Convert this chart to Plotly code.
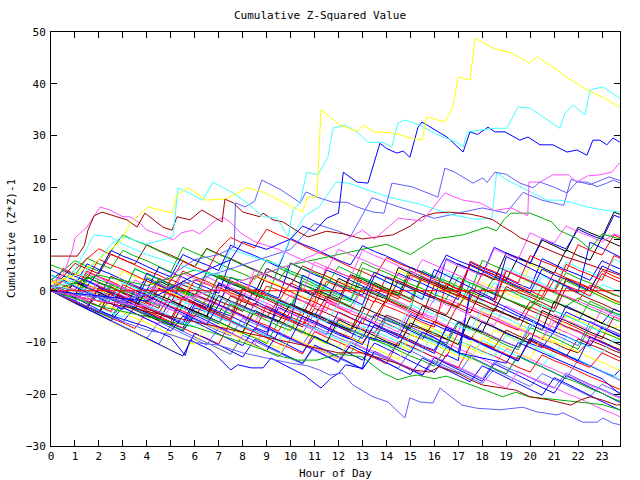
import plotly.graph_objects as go

TITLE = "Cumulative Z-Squared Value"
X_TITLE = "Hour of Day"
Y_TITLE = "Cumulative (Z*Z)-1"
X_TICKS = list(range(0, 24))
Y_TICKS = [-30, -20, -10, 0, 10, 20, 30, 40, 50]

RED = "#ff0000"; GREEN = "#00b000"; BLUE = "#0000ff"; MAGENTA = "#ff50ff"
CYAN = "#40ffff"; DARKRED = "#a00000"; YELLOW = "#ffff00"; BLACK = "#000000"
SLATE = "#6060ff"

# half-hour time grid used by the dense bundle of walks (0, 0.5, ... 24.5)
HALF_HOURS = [i * 0.5 for i in range(50)]

BUNDLE_COLORS = [RED, GREEN, BLUE, MAGENTA, CYAN, DARKRED, YELLOW, BLACK, SLATE, BLUE,
                 RED, GREEN, BLUE, MAGENTA, CYAN, DARKRED, YELLOW, BLACK, SLATE, BLUE,
                 RED, GREEN, BLUE, MAGENTA, CYAN, DARKRED, YELLOW, BLACK, SLATE, BLUE,
                 RED, GREEN, BLUE, MAGENTA, CYAN, RED, GREEN, BLUE, DARKRED, GREEN,
                 RED, MAGENTA, BLUE, RED, BLUE, GREEN, MAGENTA, BLACK, YELLOW, SLATE,
                 RED, BLUE, DARKRED, CYAN]
BUNDLE_VALUES = [
    [1, 0.2, -0.9, -1.6, 1.5, 0.6, -0.5, -1.8, -2.6, 0.3, -0.8, -1.7, 2.1, 1.2, 0.4, -0.9, -1.8, -2.9, 0.9, 0.1,
     -1.1, -2.0, -3.2, 1.8, 0.9, -0.3, -1.1, -2.2, 2.7, 1.9, 0.8, -0.2, -1.3, -2.0, -3.1, 0.2, -0.9, -1.8, 3.9, 2.8,
     1.9, 0.8, -0.1, -1.2, -2.0, 1.1, 0.2, -0.8, -1.5, -2.4],
    [0.3, -0.6, -1.5, 3.2, 2.1, 1.3, 0.1, -0.8, 2.6, 1.5, 0.4, -0.4, -1.5, -2.6, -3.4, -4.5, 0.6, -0.5, -1.4, -2.3,
     -3.1, 1.9, 0.8, -0.1, -1.3, -2.1, 4.4, 3.5, 2.6, 1.4, 0.6, -0.6, -1.5, -2.4, -3.3, 1.5, 0.4, -0.4, -1.6, -2.5,
     -3.3, -1.2, -2.1, -3.0, -1.4, -2.6, -3.5, -4.3, -5.1, -5.9],
    [0, -1.2, -2.3, -3.1, -4.2, -5.0, -2.1, -3.2, -4.1, -5.3, -6.4, -7.2, -3.3, -4.1, -5.2, -6.0, -7.1, -2.4, -3.5, -4.3,
     -5.4, -6.5, -7.3, -8.4, -4.1, -5.2, -6.3, -7.1, -8.0, -9.2, -4.6, -5.7, -6.5, -7.6, -8.4, -9.5, -6.0, -7.1, -8.3, -9.1,
     -10.2, -11.0, -7.9, -8.8, -9.9, -10.7, -7.2, -8.4, -9.5, -10.3],
    [2, 1.1, 0.2, 3.5, 2.6, 1.4, 0.5, -0.6, -1.5, 2.4, 1.3, 0.4, -0.7, -1.6, -2.5, 1.6, 0.5, -0.3, -1.4, -2.5,
     -3.4, -4.2, -1.1, -2.0, -3.1, -4.2, 0.7, -0.4, -1.3, -2.1, -3.2, -4.4, -5.2, -1.6, -2.5, -3.6, -4.7, -5.5, -6.4, -7.5,
     -8.3, -9.4, -6.0, -7.1, -8.0, -9.2, -10.1, -11.0, -11.8, -12.7],
    [1, 0.1, 3.6, 2.5, 1.6, 0.5, -0.4, 4.1, 3.2, 2.1, 1.0, 0.1, -0.8, 3.3, 2.4, 1.3, 0.5, -0.6, -1.5, 4.6,
     3.5, 2.4, 1.6, 0.5, -0.4, -1.3, 2.3, 1.2, 0.3, -0.8, -1.7, 2.8, 1.7, 0.9, -0.2, -1.1, -2.0, 1.5, 0.4, -0.5,
     -1.6, 2.9, 1.8, 0.7, -0.2, -1.3, 1.2, 0.3, -0.6, -1.5],
    [0, -0.9, 2.2, 1.1, 0.3, -0.8, -1.7, -2.8, -3.6, 0.5, -0.6, -1.5, -2.4, -3.5, -4.3, -1.0, -2.1, -3.0, -4.1, -5.0,
     -5.9, -7.0, -3.4, -4.3, -5.4, -6.2, -7.3, -8.2, -4.7, -5.6, -6.7, -7.5, -8.6, -9.4, -6.1, -7.2, -8.0, -9.1, -10.0, -10.9,
     -8.2, -9.3, -10.1, -11.2, -12.0, -9.6, -10.5, -11.6, -12.4, -13.3],
    [0, -1.3, -2.5, -3.6, -4.8, -5.9, -7.1, -8.2, -9.4, -10.3, -11.5, -12.6, -8.9, -10.1, -11.2, -12.2, -7.8, -8.9, -10.0, -11.1,
     -6.6, -7.7, -8.8, -9.8, -10.9, -6.2, -7.3, -8.4, -9.5, -10.4, -11.5, -6.9, -8.0, -9.1, -10.2, -11.1, -12.2, -7.5, -8.6, -9.7,
     -4.8, -5.9, -7.0, -8.1, -3.9, -5.0, -6.1, -7.2, -6.5, -7.6],
    [1, 0.1, -0.8, 2.7, 1.6, 0.7, -0.4, -1.3, -2.2, 1.9, 0.8, -0.1, -1.2, 3.6, 2.5, 1.4, 0.5, -0.6, 4.3, 3.2,
     2.3, 1.2, 0.3, -0.6, -1.7, 3.1, 2.2, 1.1, 0.0, -0.9, 3.8, 2.7, 1.8, 0.7, -0.2, 5.1, 4.0, 3.1, 2.0, 6.5,
     5.4, 4.5, 3.4, 7.9, 6.8, 5.9, 10.2, 9.1, 8.2, 7.1],
    [0, -1.2, -2.4, -3.5, -4.7, -5.8, -6.9, -8.1, -9.2, -10.3, -6.7, -7.8, -9.0, -10.1, -11.2, -12.3, -8.6, -9.7, -10.9, -12.0,
     -13.1, -14.2, -10.8, -11.9, -13.0, -14.1, -15.2, -12.0, -13.1, -14.2, -15.3, -16.4, -13.5, -14.6, -15.7, -16.8, -17.9, -15.2, -16.3, -17.4,
     -18.5, -16.0, -17.1, -18.2, -19.3, -20.4, -18.1, -19.2, -20.3, -21.4],
    [3, 2.1, 1.0, 5.2, 4.1, 3.2, 2.1, 1.0, 0.1, 4.6, 3.5, 2.6, 1.5, 0.6, -0.5, 6.1, 5.0, 4.1, 3.0, 2.1,
     1.0, 0.1, -0.8, 4.0, 3.1, 2.0, 0.9, 0.0, -1.1, 3.4, 2.3, 1.4, 0.3, -0.6, -1.7, 5.5, 4.4, 3.5, 2.4, 1.3,
     0.4, 6.2, 5.1, 4.0, 3.1, 2.0, 5.8, 4.7, 3.8, 2.7],
    [0, -1.1, -2.2, -3.3, 0.4, -0.7, -1.8, -2.7, -3.8, -4.9, -6.0, -1.5, -2.6, -3.7, -4.6, -5.7, -6.8, -7.7, -2.9, -4.0,
     -5.1, -6.0, -7.1, -2.2, -3.3, -4.4, -5.3, -6.4, -1.8, -2.9, -4.0, -5.1, -6.0, -7.1, -2.5, -3.6, -4.5, -5.6, -6.7, -7.6,
     -3.1, -4.2, -5.3, -6.2, -7.3, -8.4, -9.3, -5.0, -6.1, -7.2],
    [5, 4.1, 3.0, 6.3, 5.2, 4.3, 7.8, 6.7, 5.8, 4.7, 3.6, 8.4, 7.3, 6.4, 5.3, 4.2, 3.3, 2.2, 6.0, 4.9,
     3.8, 2.9, 1.8, 0.9, 4.7, 3.6, 2.5, 1.6, 0.5, -0.4, -1.5, 2.6, 1.5, 0.4, -0.5, -1.6, -2.5, -3.6, 0.3, -0.8,
     -1.9, -2.8, -3.9, -4.8, -5.9, -2.0, -3.1, -4.2, -5.1, -6.2],
    [0, -1.0, -2.1, -3.2, -4.3, 0.1, -1.0, -2.1, -3.0, -4.1, -5.2, -6.1, -1.8, -2.9, -4.0, -4.9, -6.0, -7.1, -8.0, -3.2,
     -4.3, -5.4, -6.3, -7.4, -8.5, -9.4, -5.3, -6.4, -7.5, -8.4, -9.5, -10.6, -11.5, -7.3, -8.4, -9.3, -10.4, -11.5, -12.4, -13.5,
     -9.4, -10.5, -11.4, -12.5, -13.6, -14.5, -15.6, -16.5, -14.0, -15.1],
    [0, -0.9, -1.8, 2.1, 1.0, 0.1, -1.0, -1.9, -3.0, -4.1, -5.0, -6.1, -2.8, -3.9, -4.8, -5.9, -7.0, -2.6, -3.5, -4.6,
     -5.7, -6.6, -7.7, -8.6, -5.2, -6.3, -7.4, -8.3, -9.4, -10.3, -7.0, -8.1, -9.2, -10.1, -11.2, -12.1, -13.2, -14.3, -11.2, -12.1,
     -13.2, -14.3, -15.2, -16.3, -17.2, -18.3, -19.2, -20.3, -21.2, -22.3],
    [2, 1.1, 0.0, -1.1, -2.0, 2.7, 1.6, 0.7, -0.4, -1.5, -2.4, 1.3, 0.2, -0.7, -1.8, -2.9, -3.8, 0.6, -0.5, -1.6,
     -2.5, -3.6, 1.1, 0.0, -0.9, -2.0, -3.1, 2.8, 1.7, 0.8, -0.3, -1.2, -2.3, 3.4, 2.3, 1.4, 0.3, -0.8, 4.5, 3.4,
     2.5, 1.4, 0.3, 5.6, 4.5, 3.6, 2.5, 6.1, 5.0, 4.1],
    [1, 0.1, -1.0, -2.1, -3.0, 0.8, -0.3, -1.2, -2.3, -3.4, 2.2, 1.1, 0.2, -0.9, -2.0, -2.9, -4.0, 0.3, -0.8, -1.7,
     -2.8, -3.9, -4.8, -1.1, -2.2, -3.1, -4.2, 1.5, 0.4, -0.5, -1.6, -2.7, -3.6, -4.7, -0.6, -1.7, -2.6, -3.7, -4.6, -5.7,
     -2.1, -3.2, -4.1, 0.6, -0.5, -1.6, -2.5, -3.6, -4.5, -5.6],
    [0, 2.4, 1.3, 0.4, -0.7, -1.6, -2.7, -3.8, -4.7, -1.3, -2.2, -3.3, -4.4, -5.3, -6.4, -7.5, -8.4, -4.1, -5.2, -6.1,
     -7.2, -8.3, -9.2, -10.3, -6.0, -7.1, -8.0, -9.1, -10.2, -11.1, -5.4, -6.5, -7.4, -8.5, -9.6, -10.5, -3.9, -5.0, -6.1, -7.0,
     -8.1, -9.2, -10.1, -4.6, -5.7, -6.6, -7.7, -8.8, -9.7, -10.8],
    [0, -1.1, -2.0, -3.1, -0.6, -1.7, -2.6, -3.7, -4.8, -5.7, -1.9, -3.0, -3.9, -5.0, 1.2, 0.1, -1.0, -1.9, 3.1, 2.0,
     0.9, 0.0, -1.1, -2.0, 2.4, 1.3, 0.4, -0.7, -1.6, 4.5, 3.4, 2.3, 1.4, 0.3, 5.2, 4.1, 3.2, 2.1, 7.3, 6.2,
     5.3, 9.8, 8.7, 7.6, 12.3, 11.2, 10.3, 15.2, 14.3, 13.2],
    [2, 1.1, 0.0, -1.1, -2.0, 1.5, 0.4, -0.5, -1.6, -2.7, -3.6, -4.7, -5.6, -6.7, -7.8, -8.7, -5.3, -6.4, -7.3, -8.4,
     -9.5, -10.4, -6.9, -8.0, -9.1, -10.0, -11.1, -12.2, -13.1, -9.8, -10.9, -11.8, -12.9, -14.0, -14.9, -16.0, -17.1, -13.7, -14.8, -15.7,
     -16.8, -17.9, -18.8, -15.9, -17.0, -18.1, -19.0, -20.1, -21.0, -22.1],
    [0, -1.1, -2.0, 1.9, 0.8, -0.1, -1.2, -2.1, 3.4, 2.3, 1.2, 0.3, -0.8, -1.7, -2.8, 2.6, 1.5, 0.6, -0.5, -1.4,
     5.3, 4.2, 3.1, 2.2, 1.1, 0.2, -0.9, 3.6, 2.5, 1.6, 0.5, -0.6, -1.5, 6.2, 5.1, 4.2, 3.1, 8.4, 7.3, 6.4,
     5.3, 10.1, 9.0, 8.1, 11.9, 10.8, 9.9, 14.6, 13.7, 12.8],
    [0, -1.1, -2.2, -3.1, -4.2, -5.3, -6.2, -7.3, -4.1, -5.2, -6.1, -7.2, -8.3, -9.2, -10.3, -6.0, -7.1, -8.0, -9.1, -10.2,
     -11.1, -12.2, -7.9, -9.0, -9.9, -11.0, -12.1, -13.0, -14.1, -9.8, -10.7, -11.8, -12.9, -13.8, -14.9, -10.6, -11.7, -12.6, -13.7, -14.8,
     -15.7, -12.4, -13.5, -14.4, -15.5, -16.6, -17.5, -18.6, -19.5, -20.6],
    [1, 0.1, -1.0, -1.9, -3.0, 1.2, 0.1, -0.8, -1.9, -3.0, 0.9, -0.2, -1.1, 3.7, 2.6, 1.7, 0.6, -0.5, -1.4, 4.4,
     3.3, 2.4, 1.3, 0.2, -0.7, -1.8, 2.3, 1.2, 0.1, -0.8, 4.6, 3.5, 2.6, 1.5, 0.4, -0.5, 5.9, 4.8, 3.9, 2.8,
     1.7, 0.8, -0.3, 3.5, 2.4, 1.5, 0.4, -0.7, -1.6, -2.7],
    [0, -1.2, -2.3, -3.5, -4.6, -5.8, -6.9, -8.0, -9.2, -10.3, -11.5, -12.6, -8.2, -9.3, -10.5, -11.6, -12.8, -9.4, -10.6, -11.7,
     -12.9, -14.0, -10.5, -11.6, -12.8, -13.9, -15.1, -11.7, -12.8, -14.0, -15.1, -16.3, -12.9, -14.1, -15.2, -16.4, -17.5, -14.1, -15.2, -16.4,
     -17.5, -18.7, -19.8, -16.4, -17.5, -18.7, -19.8, -21.0, -22.1, -23.3],
    [1, 0.1, -1.0, -1.9, -3.0, -4.1, -1.4, -2.5, -3.4, 1.3, 0.2, -0.7, -1.8, 2.7, 1.6, 0.7, -0.4, -1.5, -2.4, -3.5,
     -0.8, -1.9, -2.8, -3.9, 1.9, 0.8, -0.1, -1.2, -2.3, -3.2, -4.3, -5.4, -1.6, -2.7, -3.6, -4.7, -5.8, -6.7, -2.9, -4.0,
     -4.9, -6.0, -7.1, -8.0, -9.1, -10.2, -6.9, -8.0, -8.9, -10.0],
    [0, -1.0, -2.1, 1.8, 0.7, -0.2, -1.3, -2.4, -3.3, -4.4, -1.0, -2.1, -3.0, -4.1, -5.2, -6.1, -7.2, -3.8, -4.9, -5.8,
     -6.9, -8.0, -8.9, -10.0, -6.4, -7.5, -8.4, -9.5, -10.6, -11.5, -8.0, -9.1, -10.0, -11.1, -12.2, -13.1, -9.6, -10.7, -11.6, -12.7,
     -13.8, -14.7, -11.3, -12.4, -13.3, -14.4, -15.5, -16.4, -17.5, -18.6],
    [0, 2.0, 0.9, 0.0, -1.1, 2.8, 1.7, 0.8, -0.3, -1.4, -2.3, 1.9, 0.8, -0.1, -1.2, -2.3, -3.2, -4.3, -5.2, -1.7,
     -2.8, -3.7, -4.8, -5.9, -6.8, -7.9, -4.3, -5.4, -6.3, -7.4, -8.5, -9.4, -5.9, -7.0, -7.9, -9.0, -10.1, -11.0, -7.6, -8.7,
     -9.6, -10.7, -11.8, -12.7, -9.3, -10.4, -11.3, -12.4, -13.5, -14.4],
    [1, 3.3, 2.2, 1.3, 0.2, -0.7, 3.8, 2.7, 1.8, 0.7, -0.4, -1.3, 2.5, 1.4, 0.5, -0.6, -1.7, 3.1, 2.0, 1.1,
     0.0, -1.1, -2.0, 2.9, 1.8, 0.9, -0.2, -1.3, -2.2, 4.0, 2.9, 2.0, 0.9, -0.2, -1.1, -2.2, 1.6, 0.5, -0.4, -1.5,
     5.1, 4.0, 3.1, 2.0, 0.9, 0.0, -1.1, -2.0, -3.1, -4.2],
    [0, -1.1, -2.0, -3.1, -4.2, -1.6, -2.7, -3.6, -4.7, -5.8, -6.7, -2.9, -4.0, -4.9, -6.0, -7.1, -8.0, -3.8, -4.9, -5.8,
     -6.9, -8.0, -8.9, -10.0, -5.6, -6.7, -7.6, -8.7, -9.8, -10.7, -6.2, -7.3, -8.2, -9.3, -10.4, -5.0, -6.1, -7.0, -8.1, -9.2,
     -10.1, -3.8, -4.9, -5.8, -6.9, -8.0, -8.9, -10.0, -11.1, -12.0],
    [0, -1.2, -2.3, -3.5, -4.6, -5.8, -6.9, -8.0, -9.2, -6.0, -7.1, -8.3, -9.4, -10.5, -7.1, -8.3, -9.4, -10.5, -11.7, -12.8,
     -9.3, -10.5, -11.6, -12.7, -13.9, -10.5, -11.6, -12.8, -13.9, -15.0, -11.6, -12.7, -13.9, -15.0, -16.1, -12.7, -13.8, -15.0, -16.1, -12.5,
     -13.6, -14.8, -15.9, -17.0, -13.4, -14.5, -15.7, -16.8, -17.9, -19.0],
    [1, -0.2, -1.4, -2.5, -3.7, -4.8, -6.0, -3.2, -4.3, -5.5, -6.6, -7.8, -4.7, -5.8, -7.0, -8.1, -9.3, -10.4, -11.6, -8.0,
     -9.1, -10.3, -11.4, -12.6, -13.7, -10.5, -11.6, -12.8, -13.9, -15.1, -16.2, -13.0, -14.1, -15.3, -16.4, -17.6, -14.5, -15.6, -16.8, -17.9,
     -19.1, -20.2, -16.8, -17.9, -19.1, -20.2, -21.4, -22.5, -23.7, -24.8],
    [2, 1.1, 0.0, 3.8, 2.7, 1.8, 0.7, -0.4, -1.3, 2.4, 1.3, 0.4, -0.7, -1.8, 3.0, 1.9, 1.0, -0.1, -1.0, -2.1,
     1.5, 0.4, -0.5, -1.6, -2.7, 2.9, 1.8, 0.9, -0.2, -1.1, -2.2, 2.6, 1.5, 0.6, -0.5, -1.6, 3.4, 2.3, 1.4, 0.3,
     -0.8, -1.7, 2.1, 1.0, 0.1, -1.0, 3.3, 2.2, 1.3, 0.2],
    [0, -1.1, -2.2, -3.1, -4.2, -5.3, -2.5, -3.6, -4.5, -5.6, -6.7, -7.6, -4.0, -5.1, -6.0, -7.1, -8.2, -9.1, -10.2, -5.9,
     -7.0, -7.9, -9.0, -10.1, -11.0, -12.1, -8.4, -9.5, -10.4, -11.5, -12.6, -13.5, -14.6, -10.9, -12.0, -12.9, -14.0, -15.1, -16.0, -12.7,
     -13.8, -14.7, -15.8, -16.9, -17.8, -18.9, -19.8, -20.9, -21.8, -22.9],
    [2, 3.9, 2.8, 1.9, 0.8, -0.3, -1.2, -2.3, -3.4, -4.3, -5.4, -6.5, -2.6, -3.7, -4.6, -5.7, -6.8, -7.7, -8.8, -1.9,
     -3.0, -3.9, -5.0, -6.1, -7.0, -8.1, -9.2, -4.6, -5.7, -6.6, -7.7, -8.8, -9.7, -10.8, -11.9, -0.7, -1.8, -2.7, -3.8, -4.9,
     -5.8, -6.9, -8.0, -4.1, -5.2, -6.1, -7.2, -8.3, -9.2, -10.3],
    [0, 1.8, 0.7, -0.2, -1.3, -2.4, -3.3, -4.4, -5.5, -6.4, -3.1, -4.2, -5.1, -6.2, -7.3, -8.2, -9.3, -10.4, -7.0, -8.1,
     -9.0, -10.1, -11.2, -12.1, -13.2, -9.8, -10.9, -11.8, -12.9, -14.0, -14.9, -16.0, -12.7, -13.8, -14.7, -15.8, -16.9, -17.8, -18.9, -15.6,
     -16.7, -17.6, -18.7, -19.8, -20.7, -21.8, -22.9, -23.8, -24.9, -26.0],
    [1, 0.0, -1.1, -2.0, -3.1, -4.2, -5.1, -1.8, -2.9, -3.8, -4.9, -6.0, -6.9, -3.6, -4.7, -5.6, -6.7, -7.8, -8.7, -9.8,
     -5.3, -6.4, -7.3, -8.4, -9.5, -10.4, -6.8, -7.9, -8.8, -9.9, -11.0, -11.9, -7.6, -8.7, -9.6, -10.7, -11.8, -12.7, -8.5, -9.6,
     -10.5, -11.6, -12.7, -8.9, -10.0, -10.9, -12.0, -9.4, -10.5, -11.4],
    [0, 4.3, 3.2, 2.3, 6.1, 5.0, 4.1, 3.0, 1.9, 1.0, -0.1, 3.8, 2.7, 1.8, 0.7, -0.4, -1.3, 2.9, 1.8, 0.9,
     -0.2, -1.3, -2.2, 4.6, 3.5, 2.6, 1.5, 0.4, -0.5, -1.6, 3.1, 2.0, 1.1, 0.0, -1.1, 5.7, 4.6, 3.7, 2.6, 1.5,
     6.8, 5.7, 4.8, 3.7, 8.9, 7.8, 6.9, 10.8, 9.7, 8.6],
    [0, -1.1, -2.0, 2.6, 1.5, 0.6, -0.5, 4.3, 3.2, 2.3, 1.2, 0.1, -1.0, -1.9, 2.8, 1.7, 0.8, -0.3, -1.4, -2.3,
     -3.4, 1.2, 0.1, -0.8, -1.9, -3.0, 0.7, -0.4, -1.3, -2.4, -3.5, 3.9, 2.8, 1.9, 0.8, -0.3, -1.2, 2.6, 1.5, 0.6,
     -0.5, -1.6, -2.5, 1.9, 0.8, -0.1, -1.2, -2.3, -3.2, -4.3],
    [0, -1.2, -2.3, -3.5, -4.6, -5.8, -3.2, -4.3, -5.5, -6.6, -7.8, -4.9, -6.0, -7.2, -8.3, -9.5, -10.6, -7.3, -8.4, -9.6,
     -10.7, -11.9, -8.8, -9.9, -11.1, -12.2, -13.4, -10.1, -11.2, -12.4, -13.5, -14.7, -15.8, -12.4, -13.5, 0.2, -0.9, -2.1, -3.2, -4.4,
     -5.5, -6.7, -7.8, -2.9, -4.0, -5.2, -6.3, -3.5, -4.6, -5.8],
    [0, 2.6, 5.3, 4.2, 3.3, 7.1, 6.0, 5.1, 8.9, 7.8, 6.9, 5.8, 4.7, 8.2, 7.1, 6.2, 5.1, 4.0, 3.1, 2.0,
     1.1, 4.8, 3.7, 2.8, 1.7, 0.6, -0.3, -1.4, -2.3, 1.9, 0.8, -0.1, -1.2, -2.3, -3.2, -4.3, 0.4, -0.7, -1.6, -2.7,
     -3.8, -4.7, -5.8, -6.9, -7.8, -8.9, -9.8, -10.9, -11.8, -12.9],
    [2, 3.9, 5.8, 4.7, 3.8, 7.6, 10.8, 9.7, 8.8, 7.7, 6.6, 5.7, 4.6, 8.1, 7.0, 6.1, 5.0, 3.9, 3.0, 1.9,
     5.4, 4.3, 3.4, 2.3, 1.2, 0.3, 5.5, 4.4, 3.5, 2.4, 1.3, 0.4, -0.7, -1.6, 2.6, 1.5, 0.6, -0.5, -1.6, -2.5,
     -3.6, 0.7, -0.4, -1.3, -2.4, -3.5, -4.4, -5.5, -6.4, -7.5],
    [0, 2.1, 4.0, 6.2, 8.1, 7.0, 6.1, 5.0, 3.9, 3.0, 1.9, 5.7, 4.6, 3.7, 8.0, 10.3, 9.2, 8.3, 11.9, 10.8,
     9.9, 8.8, 7.7, 6.8, 5.7, 4.6, 3.7, 2.6, 6.4, 5.3, 4.4, 3.3, 2.2, 1.3, 0.2, 5.1, 4.0, 3.1, 2.0, 0.9,
     0.0, -1.1, 3.6, 2.5, 1.6, 0.5, 3.9, 2.8, 1.9, 0.8],
    [0, -1.1, -2.0, 0.9, -0.2, -1.1, -2.2, 2.1, 1.0, 0.1, -1.0, 3.4, 2.3, 1.4, 0.3, -0.8, -1.7, 4.0, 2.9, 2.0,
     0.9, -0.2, 5.6, 4.5, 3.6, 2.5, 7.9, 6.8, 5.9, 4.8, 3.7, 2.8, 1.7, 5.9, 4.8, 3.9, 2.8, 8.1, 7.0, 6.1,
     11.2, 10.1, 9.2, 12.5, 11.4, 10.5, 9.4, 11.0, 10.2, 9.3],
    [4, 2.9, 2.0, 0.9, 3.6, 7.8, 6.7, 5.8, 4.7, 3.6, 2.7, 7.0, 5.9, 5.0, 3.9, 8.8, 7.7, 6.8, 5.7, 4.6,
     10.1, 9.0, 8.1, 7.0, 5.9, 5.0, 8.7, 7.6, 6.7, 5.6, 4.5, 3.6, 2.5, 6.9, 5.8, 4.9, 3.8, 2.7, 1.8, 0.7,
     -0.4, 4.2, 3.1, 2.2, 1.1, 0.0, 4.8, 3.7, 2.8, 1.7],
    [1, 0.0, -1.1, -2.0, -3.1, -4.0, 1.2, 0.1, -0.8, -1.9, -3.0, -3.9, -5.0, -1.6, -2.7, -3.6, -4.7, -5.8, -6.7, -7.8,
     -3.9, -5.0, -5.9, -7.0, -8.1, -9.0, -10.1, -6.6, -7.7, -8.6, -9.7, -10.8, -11.7, -12.8, -8.1, -9.2, -10.1, -11.2, -12.3, -13.2,
     -9.7, -10.8, -11.7, -12.8, -13.9, -14.8, -12.0, -13.1, -14.0, -15.1],
    [0, -1.2, -2.3, -3.5, 0.6, -0.5, -1.7, -2.8, 2.3, 1.2, 0.0, -1.1, -2.3, -3.4, 1.5, 0.4, -0.8, -1.9, -3.1, -4.2,
     -5.4, 3.0, 1.9, 0.7, -0.4, -1.6, -2.7, 2.9, 1.8, 0.6, -0.5, -1.7, 4.1, 3.0, 1.8, 0.7, -0.5, -1.6, 6.6, 5.5,
     4.3, 3.2, 2.0, 0.9, -0.3, 9.4, 8.3, 7.1, 6.0, 4.8],
    [0, -1.0, 1.6, 0.5, -0.4, -1.5, -2.6, -3.5, -0.2, -1.3, -2.2, -3.3, -4.4, -5.3, -6.4, -2.6, -3.7, -4.6, -5.7, -6.8,
     -7.7, -3.5, -4.6, -5.5, -6.6, -7.7, -8.6, -9.7, -5.4, -6.5, -7.4, -8.5, -9.6, -10.5, -6.3, -7.4, -8.3, -9.4, -10.5, -11.4,
     -7.1, -8.2, -9.1, -10.2, -11.3, -6.9, -8.0, -8.9, -10.0, -11.1],
    [1, 0.0, -0.9, -2.0, 2.6, 1.5, 0.6, -0.5, -1.6, -2.5, -3.6, -4.7, -0.9, -2.0, -2.9, -4.0, -5.1, -6.0, -2.4, -3.5,
     -4.4, -5.5, -6.6, -1.8, -2.9, -3.8, -4.9, -6.0, -6.9, -8.0, -3.6, -4.7, -5.6, -6.7, -7.8, -3.1, -4.2, -5.1, -6.2, -7.3,
     -8.2, -9.3, -4.6, -5.7, -6.6, -7.7, -3.5, -4.6, -5.5, -6.6],
    [0, -1.1, 1.7, 0.6, -0.3, -1.4, -2.5, -3.4, 0.2, -0.9, -1.8, -2.9, -4.0, -4.9, -0.9, -2.0, -2.9, -4.0, -5.1, -6.0,
     -2.5, -3.6, -4.5, -5.6, -6.7, -7.6, -3.1, -4.2, -5.1, -6.2, -7.3, -2.9, -4.0, -4.9, -6.0, -7.1, -8.0, -3.4, -4.5, -5.4,
     -6.5, -7.6, -2.1, -3.2, -4.1, -5.2, -6.3, -7.2, -8.3, -9.4],
    [2, 0.9, 0.0, -1.1, -2.2, -3.1, -4.2, -5.3, -6.2, -7.3, -8.4, -9.3, -10.4, -6.4, -7.5, -8.4, -9.5, -10.6, -11.5, -12.6,
     -8.9, -10.0, -10.9, -12.0, -13.1, -9.1, -10.2, -11.1, -12.2, -13.3, -8.4, -9.5, -10.4, -11.5, -12.6, -13.5, -9.0, -10.1, -11.0, -12.1,
     -13.2, -8.7, -9.8, -10.7, -11.8, -12.9, -13.8, -14.9, -15.8, -16.9],
    [0, -1.1, -2.2, 0.6, -0.5, -1.6, -2.5, -3.6, -4.7, -1.2, -2.3, -3.2, -4.3, -5.4, -6.3, -2.0, -3.1, -4.0, -5.1, -6.2,
     -7.1, -8.2, -4.3, -5.4, -6.3, -7.4, -8.5, -9.4, -5.0, -6.1, -7.0, -8.1, -9.2, -10.1, -5.8, -6.9, -7.8, -8.9, -10.0, -10.9,
     -6.4, -7.5, -8.4, -9.5, -10.6, -5.9, -7.0, -7.9, -9.0, -10.1],
    [0, -1.1, -2.2, -3.1, 0.8, -0.3, -1.2, -2.3, -3.4, -4.3, -0.6, -1.7, -2.6, -3.7, -4.8, -5.7, -1.5, -2.6, -3.5, -4.6,
     -5.7, -6.6, -2.2, -3.3, -4.2, -5.3, -6.4, -1.9, -3.0, -3.9, -5.0, -6.1, -7.0, 1.4, 0.3, -0.6, -1.7, -2.8, 3.9, 2.8,
     1.9, 0.8, -0.3, 5.1, 4.0, 3.1, 2.0, 6.8, 5.7, 4.6],
    [3, 1.9, 0.8, -0.3, -1.4, -2.5, -3.6, 0.1, -1.0, -2.1, -3.2, -4.3, -5.4, -6.5, -2.7, -3.8, -4.9, -6.0, -7.1, -8.2,
     -9.3, -4.9, -6.0, -7.1, -8.2, -9.3, -10.4, -6.6, -7.7, -8.8, -9.9, -11.0, -12.1, -7.0, -8.1, -9.2, -10.3, -11.4, -12.5, -13.6,
     -9.1, -10.2, -11.3, -12.4, -13.5, -8.9, -10.0, -11.1, -12.2, -13.3],
    [0, -1.0, -2.1, -3.0, -4.1, -0.3, -1.4, -2.3, -3.4, -4.5, -5.4, -1.2, -2.3, -3.2, -4.3, -5.4, 0.3, -0.8, -1.7, -2.8,
     -3.9, -4.8, -0.1, -1.2, -2.1, -3.2, -4.3, -5.2, -1.6, -2.7, -3.6, -4.7, 1.1, 0.0, -0.9, -2.0, -3.1, -4.0, 0.8, -0.3,
     -1.2, -2.3, -3.4, 2.4, 1.3, 0.4, -0.7, -1.8, -2.7, -3.8],
    [3, 1.9, 1.0, -0.1, -1.2, -2.1, 1.6, 0.5, -0.4, -1.5, -2.6, -3.5, 0.8, -0.3, -1.2, -2.3, -3.4, -4.3, -1.0, -2.1,
     -3.0, -4.1, -5.2, -6.1, -2.3, -3.4, -4.3, -5.4, -6.5, -7.4, -2.6, -3.7, -4.6, -5.7, -6.8, -7.7, -3.3, -4.4, -5.3, -6.4,
     -7.5, -2.8, -3.9, -4.8, -5.9, -7.0, -7.9, -4.4, -5.5, -6.4],
]

# prominent walks read point by point
Y1_H = [0, 1, 2, 2.5, 2.96, 3.3, 4.05, 5.05, 5.26, 5.72, 6.5, 7.3, 8.2, 8.9, 10.5, 10.7, 11.1, 11.27,
        12.06, 12.8, 13.0, 13.5, 14.27, 15.0, 15.48, 15.69, 16.44, 16.78, 16.99, 17.49, 17.7, 18.45,
        19.24, 19.99, 20.28, 21.12, 21.5, 22.37, 23.04, 23.75]
Y1_V = [1.5, 3, 6, 8, 9.8, 13, 16.2, 15.0, 18.5, 19.9, 17.5, 17.8, 19.9, 19.0, 15.2, 18.1, 18.1, 35.0,
        32.0, 30.8, 32.0, 30.7, 30.5, 29.5, 29.1, 33.6, 32.6, 35.5, 41.3, 40.7, 48.8, 46.9,
        45.9, 44.0, 45.2, 42.7, 41.3, 38.8, 37.4, 35.5]

C1_H = [0, 1, 2, 2.5, 3, 4, 5.09, 5.3, 5.68, 6.34, 6.76, 7.6, 8.18, 8.85, 9.43, 9.9, 10.1, 10.39, 10.68,
        11.14, 11.56, 11.77, 12.27, 12.77, 13.23, 13.81, 14.23, 14.48, 14.77, 15.4, 15.9, 16.36, 16.94,
        17.2, 17.4, 17.9, 18.45, 19.03, 19.49, 19.99, 20.41, 21.24, 21.45, 21.79, 22.29, 22.5, 23.04, 23.75]
C1_V = [0.5, 2, 6, 9, 10.5, 9, 10.4, 19.9, 19.1, 17.5, 21.0, 18.9, 17.0, 14.3, 14.1, 10.4, 15.6, 17.0, 22.9,
        22.4, 25.8, 31.4, 32.0, 30.7, 28.7, 28.7, 27.8, 32.4, 33.0, 32.0, 30.7, 29.7, 28.7,
        27.8, 30.7, 31.1, 31.4, 31.4, 35.5, 35.3, 34.0, 31.4, 34.3, 35.9, 34.0, 38.8, 39.4, 37.2]

B1_H = [0, 2, 4, 6, 7.5, 8, 9, 10, 10.5, 11, 11.5, 12.0, 12.2, 12.77, 13.23, 13.73, 14.0, 14.44, 14.7,
        14.98, 15.32, 15.48, 15.94, 16.53, 17.2, 17.49, 17.8, 18.24, 18.53, 18.95, 19.57, 19.91, 20.41,
        20.95, 21.54, 21.95, 22.37, 22.62, 22.91, 23.2, 23.46, 23.75]
B1_V = [0, -1, -2, 3, 6, 9.5, 8, 10, 12.5, 11.5, 14, 15.0, 22.9, 21.0, 20.8, 28.5, 27.5, 26.6, 27.0,
        25.8, 31.6, 32.6, 31.4, 29.7, 26.8, 30.7, 30.2, 31.6, 30.7, 30.7, 29.1, 29.7, 28.2,
        28.2, 26.8, 27.2, 26.2, 29.1, 29.1, 28.2, 29.5, 28.7]

S1_H = [0, 1, 2, 3, 4, 5, 6, 7, 7.65, 7.7, 8.1, 8.5, 8.8, 9.6, 10.4, 10.65, 11.1, 11.77, 12.35, 12.77,
        13.44, 13.9, 14.23, 15.06, 15.69, 16.15, 16.44, 16.9, 17.61, 18.03, 18.2, 18.53, 19.0, 19.57,
        20.12, 20.41, 20.95, 21.54, 21.95, 22.37, 22.79, 23.2, 23.46, 23.75]
S1_V = [1, 0, -1, -2, 0, 3, 6, 7, 8.5, 17.0, 16.2, 17.3, 21.4, 19.5, 17.0, 19.1, 18.1, 17.1, 17.1, 16.2,
        15.2, 15.0, 20.8, 20.1, 18.9, 18.1, 23.7, 22.8, 20.8, 21.8, 20.9, 22.9, 22.5, 20.8,
        19.9, 21.0, 20.1, 18.9, 21.0, 21.0, 20.1, 20.8, 21.4, 20.8]

M1_H = [0, 2, 4, 6, 8, 10, 11, 12, 13, 13.5, 14.5, 15.5, 16.44, 17.2, 17.9, 18.5, 19.2, 19.9, 19.95,
        20.4, 20.95, 21.6, 21.95, 22.4, 22.9, 23.4, 23.75]
M1_V = [0, -2, -3, -1, 2, 5, 7, 9, 11.7, 10, 14, 13.5, 18.9, 17.5, 17.0, 15.5, 16, 14.5, 21.0,
        21.0, 22.4, 22.4, 21.0, 22.2, 22.4, 22.9, 24.8]

M2_H = [0, 0.5, 0.9, 1.0, 1.5, 1.7, 2.05, 2.46, 3.0, 3.3, 3.7, 4.0, 4.85, 5.1, 5.45, 5.9, 6.2, 6.9,
        7.2, 7.5, 7.9, 8.5, 9.5, 10.5, 11.5, 12, 13, 14, 15, 15.5, 16.5, 17.5, 18.5, 19, 20, 21, 22, 23, 23.75]
M2_V = [1.5, 3, 8, 10.2, 12.3, 13.7, 16.2, 15.6, 14.3, 14.3, 13.1, 11.7, 10.4, 9.8, 11.2, 11.7, 11.0, 13.7,
        14.1, 13.2, 11.2, 9.5, 8, 6, 4, 8, 6, 4, 2, 6, 4, 2, 0, 4, 2, 0, -2, -4, -5.5]

R1_H = [0, 1.1, 1.4, 1.54, 1.8, 2.13, 2.75, 3.17, 3.59, 3.92, 4.67, 5.05, 5.26, 5.8, 6.3, 6.76, 7.14,
        7.26, 7.6, 8.01, 8.72, 8.85, 9.27, 9.68, 10.39, 10.73, 11.5, 12.2, 13, 14.27, 15.0, 15.5, 16.0,
        16.6, 17.1, 17.5, 18.0, 18.45, 18.9, 19.3, 19.6, 20.5, 21.5, 22.5, 23.75]
R1_V = [6.7, 6.7, 8.8, 11.7, 14.5, 15.2, 14.3, 13.7, 12.3, 15.0, 12.3, 11.7, 14.3, 13.7, 15.6, 14.3, 13.3,
        17.7, 17.0, 15.2, 14.3, 15.0, 13.7, 13.3, 11.2, 10.4, 11.5, 11.0, 10, 10.8, 12.5, 14.3, 15.0,
        15.2, 15.0, 14.8, 14.3, 13.7, 12.3, 11.2, 10.2, 8.5, 6.5, 5, 3]

C2_H = [0, 1, 1.8, 2.5, 3, 4, 5, 6, 7, 7.5, 8.5, 9.5, 10, 10.6, 11.2, 11.9, 12.4, 13.0, 14.1, 15.5,
        16.78, 17.2, 17.7, 18.4, 18.6, 19.03, 19.57, 20.12, 20.7, 21.24, 21.8, 22.37, 23.04, 23.75]
C2_V = [0.5, 4, 10.8, 10.4, 9, 7, 5.5, 4, 3, 8, 6.5, 5, 10, 14.5, 16.2, 21.0, 20.8, 19.9, 18.1, 16.6,
        14.6, 14.3, 13.8, 14, 22.8, 21.4, 20.1, 18.9, 17.5, 17.5, 17.0, 16.2, 15.6, 15.2]

S3_H = [0, 3, 6, 8, 10, 11, 12, 12.5, 13.4, 14, 15, 16, 17, 18, 19, 19.7, 20.5, 21.4, 21.7, 22.5, 23.3, 23.75]
S3_V = [0, -2, 2, 5, 8, 13, 11.5, 10.5, 18.0, 17, 15.5, 14, 15, 16, 15, 19, 17.5, 16.5, 21.5, 20.5, 22, 21.3]

G2_H = [0, 2, 4, 6, 8, 10, 12, 14, 15, 16, 17.2, 18.2, 18.6, 18.9, 19.2, 20.0, 20.9, 21.2, 22, 22.5, 23, 23.75]
G2_V = [0, 3, 1, 4, 2, 5, 7, 9, 7, 10, 10.8, 12.3, 11.6, 13.7, 15.0, 15.0, 13.3, 11.7, 10, 8, 11, 10]

S2_H = [0, 1, 2, 3, 4, 5, 6, 7, 8, 9, 10, 10.7, 11.2, 11.64, 12.15, 12.6, 13.44, 14.07, 14.77, 14.98,
        15.4, 15.94, 16.24, 17.15, 17.78, 18.74, 19.28, 19.7, 20.28, 21.12, 21.37, 22.2, 22.79, 23.04,
        23.46, 23.75]
S2_V = [0, -2, -4, -6, -7.6, -8.5, -10, -10.5, -12, -13, -14, -14.5, -15.3, -16.3, -15.9, -18.2, -20.5,
        -21.5, -24.6, -20.7, -21.5, -21.7, -18.8, -22.1, -22.7, -23.0, -22.7, -22.5, -23.4, -24.0,
        -23.6, -25.4, -25.4, -24.6, -25.6, -25.9]

B2_H = [0, 1, 2, 3, 4, 5, 5.6, 5.8, 6.68, 7.5, 7.8, 8.35, 8.85, 9.18, 9.72, 10.56, 11.27, 11.69, 12.02,
        12.3, 13, 13.3, 14, 15, 15.5, 16, 17, 18, 19, 19.5, 20, 21, 22, 22.5, 23, 23.75]
B2_V = [0, -2, -4, -5.5, -7, -9, -12.5, -9.5, -11.5, -15.3, -14.3, -14.9, -14.9, -13.0, -14.3, -16.3,
        -18.8, -16.9, -15.9, -14.3, -15, -9, -10, -12, -8, -9, -12, -13, -14, -10, -11, -13, -15, -16,
        -17, -20]

G1_H = [0, 2, 4, 6, 8, 9.7, 10.3, 11.1, 12.0, 13.0, 13.86, 14.48, 15.0, 15.3, 16, 16.5, 17.78, 18.85,
        19.4, 19.95, 21, 22, 23, 23.75]
G1_V = [0, -3, -5, -7, -10, -12.8, -13.4, -13.4, -12.2, -12.8, -15.9, -17.2, -16.5, -16.3, -17, -16.5,
        -18.6, -20.5, -19.6, -20.5, -21, -21.5, -22, -23]

R3_H = [0, 3, 6, 8, 10, 12, 13, 14.44, 15.1, 15.8, 16.2, 16.9, 17.5, 18.0, 19.4, 20.0, 20.8, 21.4,
        21.7, 22.1, 22.5, 23.0, 23.6, 23.75]
R3_V = [0, -3, -6, -8, -10, -12, -12, -14.0, -15.3, -15.7, -14.7, -15.7, -17.2, -18.2, -19.2, -20.5,
        -21.1, -21.7, -22.1, -21.1, -20.5, -21.1, -22.1, -22.0]

ZERO_H = [0, 23.75]
ZERO_V = [0, 0]

PROMINENT = [
    (G1_H, G1_V, GREEN), (R3_H, R3_V, DARKRED), (B2_H, B2_V, BLUE), (S2_H, S2_V, SLATE),
    (G2_H, G2_V, GREEN), (S3_H, S3_V, SLATE), (C2_H, C2_V, CYAN), (M2_H, M2_V, MAGENTA),
    (R1_H, R1_V, DARKRED), (M1_H, M1_V, MAGENTA), (S1_H, S1_V, SLATE), (B1_H, B1_V, BLUE),
    (C1_H, C1_V, CYAN), (Y1_H, Y1_V, YELLOW),
]

fig = go.Figure()
for vals, col in zip(BUNDLE_VALUES, BUNDLE_COLORS):
    fig.add_trace(go.Scatter(x=HALF_HOURS[:len(vals)], y=vals, mode="lines",
                             line=dict(color=col, width=1), hoverinfo="skip"))
for hx, vy, col in PROMINENT:
    fig.add_trace(go.Scatter(x=hx, y=vy, mode="lines",
                             line=dict(color=col, width=1), hoverinfo="skip"))
fig.add_trace(go.Scatter(x=ZERO_H, y=ZERO_V, mode="lines",
                         line=dict(color=RED, width=1), hoverinfo="skip"))

FONT = dict(family="DejaVu Sans Mono", size=11, color="black")

fig.update_layout(
    width=640, height=480,
    margin=dict(l=51, r=20, t=32, b=34),
    paper_bgcolor="white", plot_bgcolor="white",
    showlegend=False,
    font=FONT,
    title=dict(text=TITLE, x=0.5, xanchor="center", y=1 - 15 / 480, yanchor="middle",
               font=FONT),
)
fig.update_xaxes(range=[0, 23.75], tickvals=X_TICKS, ticks="inside", ticklen=6,
                 tickcolor="black", showline=True, linecolor="black", linewidth=1,
                 mirror="allticks", showgrid=False, zeroline=False, tickfont=FONT)
fig.update_yaxes(range=[-30, 50], tickvals=Y_TICKS, ticks="inside", ticklen=6,
                 tickcolor="black", showline=True, linecolor="black", linewidth=1,
                 mirror="allticks", showgrid=False, zeroline=False, tickfont=FONT,
                 ticklabelstandoff=2)
fig.add_annotation(text=X_TITLE, xref="paper", yref="paper", x=0.5, y=0, yshift=-27,
                   showarrow=False, xanchor="center", yanchor="middle", font=FONT)
fig.add_annotation(text=Y_TITLE, xref="paper", yref="paper", x=0, y=0.5, xshift=-40,
                   showarrow=False, xanchor="center", yanchor="middle", textangle=-90,
                   font=FONT)

fig.write_html("out.html")
